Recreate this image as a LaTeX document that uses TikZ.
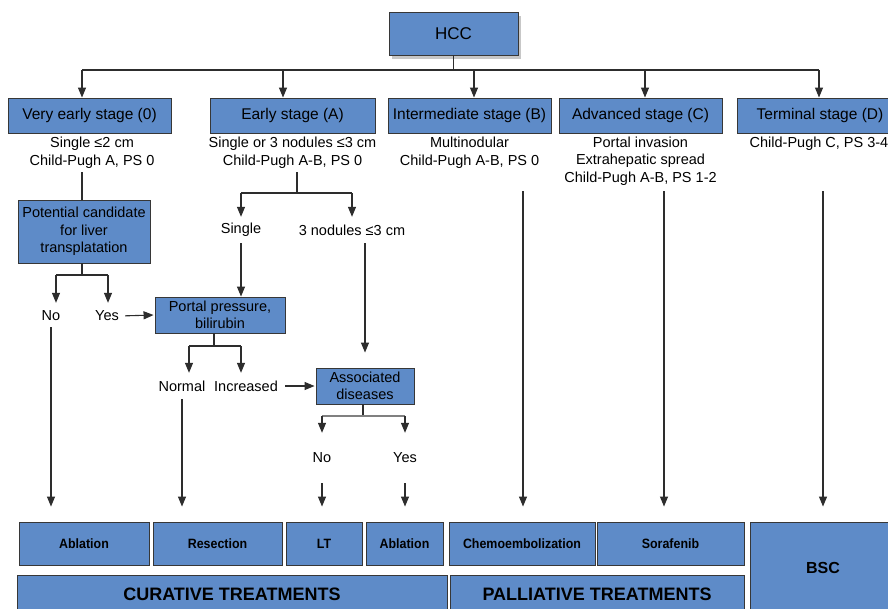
\documentclass[tikz,border=0pt]{standalone}
\usepackage{fontspec}
\setmainfont{Liberation Sans}
\newfontfamily\narrowfont[FakeStretch=0.92]{Liberation Sans}
\usetikzlibrary{arrows.meta,shadows}
\definecolor{boxblue}{RGB}{94,139,200}
\definecolor{boxline}{RGB}{55,55,55}
\definecolor{linec}{RGB}{45,45,45}
\tikzset{
  box/.style={draw=boxline, fill=boxblue, line width=0.9pt, inner sep=0pt, align=center, text=black},
  stagebox/.style={box, minimum height=35pt, font=\fontsize{15.5}{18}\selectfont},
  treatbox/.style={box, minimum height=43pt, font=\narrowfont\bfseries\fontsize{13.5}{16}\selectfont},
  groupbox/.style={box, minimum height=38pt, font=\bfseries\fontsize{18}{20}\selectfont},
  info/.style={inner sep=0pt, align=center, font=\fontsize{14.5}{17.5}\selectfont},
  lab/.style={inner sep=0pt, align=center, minimum height=26pt, font=\fontsize{14.5}{17}\selectfont},
  ln/.style={draw=linec, line width=1.1pt},
  arr/.style={ln, -{Triangle[length=10pt,width=8pt]}},
}
\begin{document}
\begin{tikzpicture}[x=1pt,y=-1pt]
\useasboundingbox (0,0) rectangle (888,608);
\clip (0,0) rectangle (888,608);
\fill[white] (0,0) rectangle (888,608);

% top
\node[box, minimum width=129pt, minimum height=43pt, font=\fontsize{17}{20}\selectfont,
  drop shadow={shadow xshift=3pt, shadow yshift=-4pt, opacity=0.22, fill=black}] (hcc) at (453.5,33.5) {HCC};

% stages
\node[stagebox, minimum width=163pt] (s0) at (89.5,115.5) {Very early stage (0)};
\node[stagebox, minimum width=165pt] (sA) at (292.5,115.5) {Early stage (A)};
\node[stagebox, minimum width=163pt] (sB) at (469.5,115.5) {Intermediate stage (B)};
\node[stagebox, minimum width=163pt] (sC) at (640.5,115.5) {Advanced stage (C)};
\node[stagebox, minimum width=166pt] (sD) at (820,115.5) {Terminal stage (D)};

% stage info
\node[info] (i0) at (92,152.5) {Single ≤2 cm\\Child-Pugh A, PS 0};
\node[info] (iA) at (292.5,152.5) {Single or 3 nodules ≤3 cm\\Child-Pugh A-B, PS 0};
\node[info] (iB) at (469.5,152.5) {Multinodular\\Child-Pugh A-B, PS 0};
\node[info] (iC) at (640.5,161) {Portal invasion\\Extrahepatic spread\\Child-Pugh A-B, PS 1-2};
\node[info] (iD) at (819,143.5) {Child-Pugh C, PS 3-4};

% middle boxes
\node[box, minimum width=132pt, minimum height=63pt, font=\fontsize{14.5}{17.3}\selectfont] (pc) at (84,231.5) {Potential candidate\\for liver\\transplatation};
\node[box, minimum width=130pt, minimum height=36pt, font=\fontsize{14.5}{17}\selectfont] (portal) at (220,315) {Portal pressure,\\bilirubin};
\node[box, minimum width=98pt, minimum height=36pt, font=\fontsize{14.5}{17}\selectfont] (assoc) at (365,386) {Associated\\diseases};

% labels
\node[lab] (no1) at (51,316) {No};
\node[lab] (yes1) at (107,316) {Yes};
\node[lab] (single) at (241,230) {Single};
\node[lab] (nod) at (352,230) {3 nodules ≤3 cm};
\node[lab] (normal) at (182,386) {Normal};
\node[lab] (inc) at (246,386) {Increased};
\node[lab, minimum height=50pt] (no2) at (322,458) {No};
\node[lab, minimum height=50pt] (yes2) at (405,458) {Yes};

% bottom boxes
\node[treatbox, minimum width=130pt] (abl1) at (84,543.5) {Ablation};
\node[treatbox, minimum width=129pt] (resec) at (217.5,543.5) {Resection};
\node[treatbox, minimum width=76pt] (lt) at (324,543.5) {LT};
\node[treatbox, minimum width=77pt] (abl2) at (404.5,543.5) {Ablation};
\node[treatbox, minimum width=146pt] (chemo) at (522,543.5) {Chemoembolization};
\node[treatbox, minimum width=147pt] (sora) at (670.5,543.5) {Sorafenib};
\node[box, minimum width=146pt, minimum height=92pt, font=\bfseries\fontsize{16}{18}\selectfont] (bsc) at (823,568) {BSC};
\node[groupbox, minimum width=430pt] (cur) at (232,594) {CURATIVE TREATMENTS};
\node[groupbox, minimum width=294pt] (pal) at (597,594) {PALLIATIVE TREATMENTS};

% HCC -> stages
\coordinate (hj) at (453.5,70);
\coordinate (t0) at (82,70);
\coordinate (tA) at (283,70);
\coordinate (tB) at (474,70);
\coordinate (tC) at (645,70);
\coordinate (tD) at (819,70);
\draw[ln] (hcc.south -| hj) -- (hj);
\draw[ln] (t0) -- (tD);
\draw[arr] (t0) -- (t0 |- s0.north);
\draw[arr] (tA) -- (tA |- sA.north);
\draw[arr] (tB) -- (tB |- sB.north);
\draw[arr] (tC) -- (tC |- sC.north);
\draw[arr] (tD) -- (tD |- sD.north);

% very early branch
\coordinate (f0) at (82,275);
\coordinate (f0L) at (56,275);
\coordinate (f0R) at (108,275);
\draw[ln, shorten <=4pt] (i0.south -| f0) -- (pc.north -| f0);
\draw[ln] (pc.south -| f0) -- (f0);
\draw[ln] (f0L) -- (f0R);
\draw[arr] (f0L) -- (f0L |- no1.north);
\draw[arr] (f0R) -- (f0R |- yes1.north);
\draw[arr, shorten <=6pt, shorten >=1pt] (yes1.east) -- (portal.west);
\draw[arr, shorten <=-2pt, shorten >=15pt] (no1.south) -- (no1.south |- abl1.north);

% early branch
\coordinate (fA) at (297,193);
\coordinate (fAL) at (241,193);
\coordinate (fAR) at (352,193);
\draw[ln, shorten <=4pt] (iA.south -| fA) -- (fA);
\draw[ln] (fAL) -- (fAR);
\draw[arr] (fAL) -- (fAL |- single.north);
\draw[arr] (fAR) -- (fAR |- nod.north);
\draw[arr] (single.south) -- (single.south |- portal.north);
\draw[arr, shorten >=15pt] (nod.south -| assoc.north) -- (assoc.north);

% portal branch
\coordinate (f1) at (214,346);
\coordinate (f1L) at (189,346);
\coordinate (f1R) at (241,346);
\draw[ln] (portal.south -| f1) -- (f1);
\draw[ln] (f1L) -- (f1R);
\draw[arr] (f1L) -- (f1L |- normal.north);
\draw[arr] (f1R) -- (f1R |- inc.north);
\draw[arr, shorten <=7pt, shorten >=1pt] (inc.east) -- (assoc.west);
\draw[arr, shorten >=15pt] (normal.south) -- (normal.south |- resec.north);

% associated diseases branch
\coordinate (f2) at (363,416);
\coordinate (f2L) at (322,416);
\coordinate (f2R) at (405,416);
\draw[ln] (assoc.south -| f2) -- (f2);
\draw[ln, draw=gray] (f2L) -- (f2R);
\draw[arr] (f2L) -- (f2L |- no2.north);
\draw[arr] (f2R) -- (f2R |- yes2.north);
\draw[arr, shorten >=15pt] (no2.south) -- (no2.south |- lt.north);
\draw[arr, shorten >=15pt] (yes2.south) -- (yes2.south |- abl2.north);

% B, C, D
\coordinate (cB) at (523,191);
\coordinate (cC) at (664,191);
\coordinate (cD) at (823,191);
\draw[arr, shorten >=15pt] (cB) -- (cB |- chemo.north);
\draw[arr, shorten >=15pt] (cC) -- (cC |- sora.north);
\draw[arr, shorten >=15pt] (cD) -- (cD |- bsc.north);
\end{tikzpicture}
\end{document}
